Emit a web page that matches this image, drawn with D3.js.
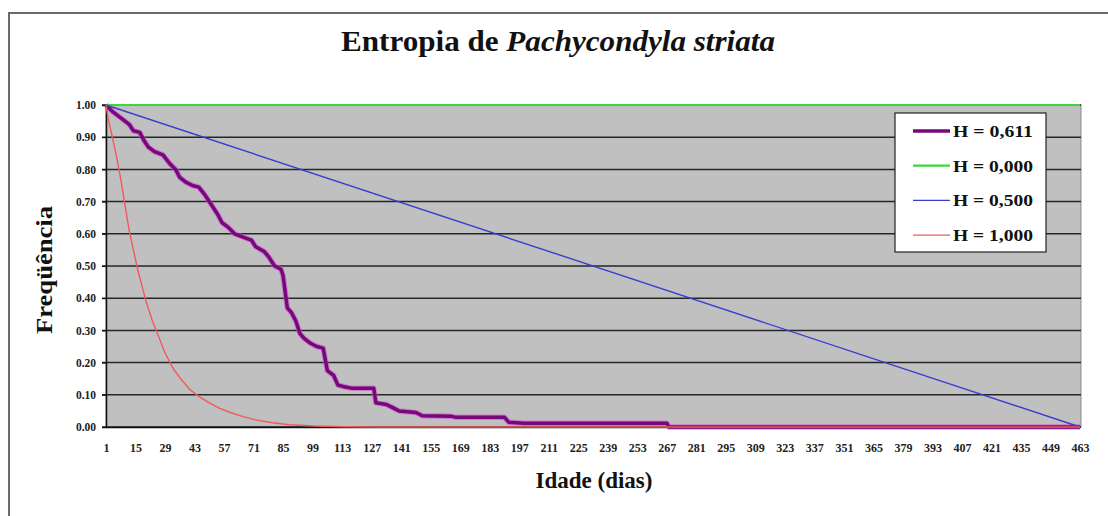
<!DOCTYPE html>
<html>
<head>
<meta charset="utf-8">
<script src="https://cdn.jsdelivr.net/npm/d3@7"></script>
<style>
  body { margin: 0; background: #fff; }
  text { font-family: "Liberation Serif", "Times New Roman", serif; font-weight: bold; }
</style>
</head>
<body>
<div id="chart"></div>
<script>
// 画布尺寸
const width = 1108;
const height = 516;

// x 轴刻度（天）
const dayLabels = [1, 15, 29, 43, 57, 71, 85, 99, 113, 127, 141, 155, 169, 183, 197, 211, 225,
    239, 253, 267, 281, 295, 309, 323, 337, 351, 365, 379, 393, 407, 421, 435, 449, 463];

// y 轴刻度
const freqTicks = [0, 0.1, 0.2, 0.3, 0.4, 0.5, 0.6, 0.7, 0.8, 0.9, 1.0];

// 系列名称与颜色
const seriesNames = ["H = 0,611", "H = 0,000", "H = 0,500", "H = 1,000"];
const seriesColors = ["#76087a", "#3ad83a", "#3c3cd0", "#f05a5a"];
const seriesWidths = [3.5, 2.2, 1.4, 1.4];

// H = 0,611 (实测存活曲线，从图上读取)
const h0611 = [
    [1, 1.00], [4, 0.98], [8, 0.96], [12, 0.94], [14, 0.92], [17, 0.915], [19, 0.89], [21, 0.87],
    [24, 0.855], [28, 0.845], [31, 0.82], [34, 0.80], [36, 0.775], [39, 0.76], [42, 0.75], [45, 0.745],
    [48, 0.72], [51, 0.69], [54, 0.66], [56, 0.635], [59, 0.62], [62, 0.60], [66, 0.59], [70, 0.58],
    [72, 0.56], [76, 0.545], [78, 0.53], [81, 0.50], [84, 0.49], [85, 0.47], [87, 0.37], [89, 0.355],
    [91, 0.33], [93, 0.29], [95, 0.275], [98, 0.26], [101, 0.25], [104, 0.245], [105, 0.21], [106, 0.175],
    [109, 0.16], [111, 0.13], [114, 0.125], [118, 0.12], [128, 0.12], [129, 0.075], [134, 0.07],
    [137, 0.06], [140, 0.05], [148, 0.045], [151, 0.035], [165, 0.033], [167, 0.03], [190, 0.03],
    [192, 0.015], [199, 0.012], [267, 0.012], [268, 0.0], [463, 0.0]
];

// H = 0,000
const h0000 = [[1, 1.0], [463, 1.0]];

// H = 0,500
const h0500 = [[1, 1.0], [463, 0.0]];

// H = 1,000
const h1000 = [
    [1, 1.00], [2, 0.96], [4, 0.90], [6, 0.84], [8, 0.77], [10, 0.69], [12, 0.61], [14, 0.55],
    [16, 0.49], [18, 0.44], [20, 0.39], [23, 0.33], [26, 0.28], [29, 0.23], [33, 0.18], [37, 0.145],
    [41, 0.115], [45, 0.095], [50, 0.075], [55, 0.058], [60, 0.045], [66, 0.032], [72, 0.022],
    [80, 0.013], [88, 0.007], [100, 0.003], [115, 0.001], [130, 0.0], [463, 0.0]
];

const allSeries = [h0611, h0000, h0500, h1000];

// 绘图区
const plot = { left: 106, right: 1081, top: 105, bottom: 427 };

const svg = d3.select("#chart")
    .append("svg")
    .attr("width", width)
    .attr("height", height);

// 外框
svg.append("rect")
    .attr("x", 9).attr("y", 13)
    .attr("width", width + 20).attr("height", height + 20)
    .attr("fill", "#fff")
    .attr("stroke", "#6a6a6a")
    .attr("stroke-width", 2);

// 比例尺
const x = d3.scaleLinear().domain([1, 463]).range([plot.left, plot.right - 1]);
const y = d3.scaleLinear().domain([0, 1]).range([plot.bottom, plot.top]);

// 灰色背景
svg.append("rect")
    .attr("x", plot.left).attr("y", plot.top)
    .attr("width", plot.right - plot.left).attr("height", plot.bottom - plot.top)
    .attr("fill", "#c0c0c0")
    .attr("stroke", "#8a8a8a")
    .attr("stroke-width", 1);

// 网格线
svg.append("g")
    .selectAll("line")
    .data(freqTicks)
    .enter()
    .append("line")
    .attr("x1", plot.left - 4)
    .attr("x2", plot.right)
    .attr("y1", d => y(d))
    .attr("y2", d => y(d))
    .attr("stroke", "#262626")
    .attr("stroke-width", 1.5);

// y 轴
const yAxis = svg.append("g")
    .attr("transform", `translate(${plot.left},0)`)
    .call(d3.axisLeft(y).tickValues(freqTicks).tickFormat(d3.format(".2f")).tickSize(4).tickPadding(6));
yAxis.select(".domain").attr("stroke", "#111").attr("stroke-width", 1.5);
yAxis.selectAll(".tick line").attr("stroke", "#111");
yAxis.selectAll("text")
    .style("font-size", "11.5px")
    .style("font-weight", "bold")
    .attr("fill", "#222");

// x 轴
const xAxis = svg.append("g")
    .attr("transform", `translate(0,${plot.bottom})`)
    .call(d3.axisBottom(x).tickValues(dayLabels).tickFormat(d3.format("d")).tickSize(0).tickPadding(16));
xAxis.select(".domain").attr("stroke", "#111").attr("stroke-width", 1.5);
xAxis.selectAll("text")
    .style("font-size", "12px")
    .style("font-weight", "bold")
    .attr("fill", "#222");

// 曲线
const line = d3.line()
    .x(d => x(d[0]))
    .y(d => y(d[1]));

// 紫色曲线的洋红色边缘
svg.append("path")
    .datum(h0611)
    .attr("d", line)
    .attr("fill", "none")
    .attr("stroke", "#d24ad2")
    .attr("stroke-opacity", 0.6)
    .attr("stroke-width", 5.5)
    .attr("stroke-linejoin", "round");

svg.append("g")
    .attr("class", "series")
    .selectAll("path")
    .data(allSeries)
    .enter()
    .append("path")
    .attr("d", line)
    .attr("fill", "none")
    .attr("stroke", (d, i) => seriesColors[i])
    .attr("stroke-width", (d, i) => seriesWidths[i])
    .attr("stroke-linejoin", "round");

// 图例
const legend = svg.append("g")
    .attr("transform", "translate(895,113)");

legend.append("rect")
    .attr("width", 151)
    .attr("height", 139)
    .attr("fill", "#fff")
    .attr("stroke", "#222")
    .attr("stroke-width", 1.2);

seriesNames.forEach((name, i) => {
    const ly = 18 + i * 34.7;
    legend.append("line")
        .attr("x1", 18).attr("x2", 55)
        .attr("y1", ly).attr("y2", ly)
        .attr("stroke", seriesColors[i])
        .attr("stroke-width", seriesWidths[i]);
    legend.append("text")
        .attr("x", 58)
        .attr("y", ly + 6)
        .style("font-size", "17px")
        .attr("textLength", 80)
        .attr("lengthAdjust", "spacingAndGlyphs")
        .attr("fill", "#111")
        .text(name);
});

// 标题
const title = svg.append("text")
    .attr("x", 558)
    .attr("y", 51)
    .attr("text-anchor", "middle")
    .style("font-size", "30px")
    .attr("textLength", 434)
    .attr("lengthAdjust", "spacingAndGlyphs")
    .attr("fill", "#111");
title.append("tspan").text("Entropia de ");
title.append("tspan").style("font-style", "italic").text("Pachycondyla striata");

// 轴标题
svg.append("text")
    .attr("x", 594)
    .attr("y", 488)
    .attr("text-anchor", "middle")
    .style("font-size", "23px")
    .attr("fill", "#111")
    .text("Idade (dias)");

svg.append("text")
    .attr("transform", "translate(52,270) rotate(-90)")
    .attr("text-anchor", "middle")
    .style("font-size", "23px")
    .attr("textLength", 128)
    .attr("lengthAdjust", "spacingAndGlyphs")
    .attr("fill", "#111")
    .text("Freqüência");
</script>
</body>
</html>
